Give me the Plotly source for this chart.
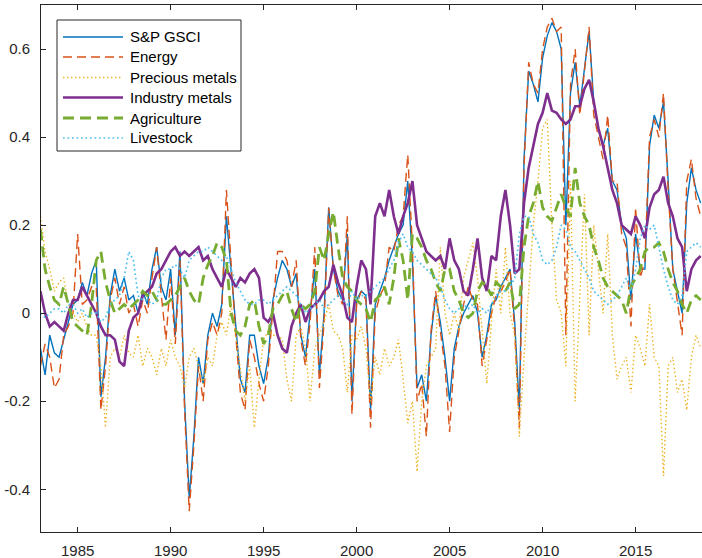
import numpy as np
import plotly.graph_objects as go

# Quarterly observation dates
dates = np.arange(1983.0, 2018.51, 0.25)

gsci = [
    -0.08, -0.14, -0.05, -0.09,   # 1983
    -0.10, -0.06, -0.02, 0.02,    # 1984
    0.03, 0.07, 0.04, 0.09,       # 1985
    0.12, -0.19, -0.10, 0.04,     # 1986
    0.10, 0.05, 0.08, 0.03,       # 1987
    0.04, 0.00, 0.05, 0.02,       # 1988
    0.10, 0.15, 0.06, 0.03,       # 1989
    0.10, -0.05, 0.14, -0.20,     # 1990
    -0.42, -0.28, -0.10, -0.16,   # 1991
    -0.05, 0.00, -0.03, 0.02,     # 1992
    0.22, 0.10, -0.03, -0.15,     # 1993
    -0.18, -0.05, -0.05, -0.12,   # 1994
    -0.16, -0.10, 0.03, 0.08,     # 1995
    0.12, 0.10, 0.06, 0.09,       # 1996
    -0.05, -0.10, 0.00, 0.10,     # 1997
    -0.14, 0.00, 0.24, 0.10,      # 1998
    0.05, 0.03, 0.18, -0.20,      # 1999
    0.03, 0.05, 0.04, -0.22,      # 2000
    0.02, 0.05, 0.08, 0.12,       # 2001
    0.15, 0.18, 0.20, 0.30,       # 2002
    0.12, -0.17, -0.14, -0.20,    # 2003
    -0.05, 0.04, -0.02, -0.10,    # 2004
    -0.20, -0.08, -0.03, 0.00,    # 2005
    0.02, 0.04, 0.00, -0.10,      # 2006
    -0.05, 0.02, 0.03, 0.06,      # 2007
    0.08, 0.10, -0.02, -0.22,     # 2008
    0.35, 0.55, 0.52, 0.48,       # 2009
    0.58, 0.63, 0.66, 0.64,       # 2010
    0.60, 0.20, 0.50, 0.57,       # 2011
    0.47, 0.55, 0.64, 0.48,       # 2012
    0.42, 0.38, 0.42, 0.30,       # 2013
    0.28, 0.20, 0.17, 0.03,       # 2014
    0.18, 0.10, 0.10, 0.38,       # 2015
    0.45, 0.42, 0.48, 0.30,       # 2016
    0.10, 0.05, 0.00, 0.25,       # 2017
    0.33, 0.28, 0.25,             # 2018
]

energy = [
    -0.12, -0.07, -0.10, -0.17,
    -0.15, -0.05, -0.03, 0.00,
    0.18, 0.02, 0.03, 0.06,
    0.06, -0.22, -0.12, 0.03,
    0.08, 0.02, 0.06, 0.00,
    0.02, -0.03, 0.03, 0.00,
    0.08, 0.15, 0.04, -0.06,
    0.08, -0.07, 0.12, -0.22,
    -0.45, -0.30, -0.12, -0.20,
    -0.06, -0.02, -0.05, 0.00,
    0.28, 0.12, -0.05, -0.18,
    -0.22, -0.06, -0.10, -0.16,
    -0.20, -0.12, 0.02, 0.14,
    0.14, 0.12, 0.06, 0.12,
    -0.06, -0.12, -0.02, 0.15,
    -0.17, -0.02, 0.24, 0.10,
    0.04, 0.02, 0.22, -0.23,
    0.02, 0.05, 0.03, -0.26,
    0.00, 0.04, 0.06, 0.15,
    0.14, 0.20, 0.22, 0.36,
    0.15, -0.20, -0.16, -0.28,
    -0.04, 0.05, -0.04, -0.12,
    -0.27, -0.10, -0.04, 0.02,
    0.06, 0.03, 0.02, -0.12,
    -0.06, 0.00, 0.04, 0.05,
    0.07, 0.10, -0.04, -0.26,
    0.33, 0.57, 0.52, 0.50,
    0.60, 0.65, 0.67, 0.64,
    0.65, -0.05, 0.52, 0.60,
    0.45, 0.55, 0.65, 0.45,
    0.40, 0.35, 0.45, 0.30,
    0.30, 0.18, 0.15, -0.03,
    0.24, 0.08, 0.12, 0.40,
    0.44, 0.40, 0.50, 0.28,
    0.10, 0.03, -0.05, 0.30,
    0.35, 0.26, 0.22,
]

precious = [
    0.22, 0.14, 0.10, 0.05,
    0.07, 0.08, 0.02, 0.00,
    -0.02, 0.00, -0.03, -0.05,
    -0.05, -0.12, -0.26, -0.10,
    -0.08, -0.10, -0.05, -0.09,
    -0.10, -0.05, -0.12, -0.08,
    -0.10, -0.14, -0.08, -0.12,
    -0.06, -0.10, -0.12, -0.17,
    -0.10, -0.08, -0.12, -0.16,
    -0.10, -0.12, -0.05, -0.02,
    -0.05, 0.02, -0.05, -0.12,
    -0.20, -0.12, -0.26, -0.15,
    -0.06, -0.04, -0.05, -0.05,
    -0.06, -0.15, -0.20, -0.05,
    -0.03, -0.08, -0.20, -0.08,
    -0.05, -0.02, 0.02, -0.04,
    -0.05, -0.08, -0.18, -0.05,
    -0.06, -0.03, -0.08, -0.20,
    -0.10, -0.14, -0.08, -0.12,
    -0.10, -0.06, -0.15, -0.25,
    -0.20, -0.36, -0.20, -0.12,
    -0.10, -0.08, 0.15, 0.00,
    -0.05, 0.00, -0.04, 0.08,
    0.12, 0.16, 0.08, -0.05,
    -0.16, -0.02, 0.10, 0.00,
    0.15, 0.00, -0.05, -0.28,
    -0.10, 0.05, 0.20, 0.30,
    0.42, 0.44, 0.20, 0.03,
    0.00, -0.12, 0.30, -0.20,
    0.05, 0.27, -0.05, 0.20,
    0.10, 0.00, 0.18, -0.05,
    -0.15, -0.12, -0.10, -0.18,
    -0.05, -0.08, -0.12, 0.02,
    -0.10, -0.12, -0.37, -0.12,
    -0.10, -0.18, -0.15, -0.22,
    -0.10, -0.05, -0.08,
]

industry = [
    0.05, 0.00, -0.03, -0.02,
    -0.03, -0.04, 0.00, 0.03,
    0.03, 0.06, 0.04, 0.02,
    0.00, -0.03, -0.05, -0.05,
    -0.06, -0.11, -0.12, -0.04,
    -0.01, 0.00, 0.04, 0.05,
    0.06, 0.09, 0.10, 0.12,
    0.14, 0.15, 0.13, 0.14,
    0.13, 0.14, 0.15, 0.12,
    0.13, 0.10, 0.08, 0.06,
    0.10, 0.08, 0.06, 0.08,
    0.07, 0.09, 0.10, 0.08,
    -0.01, -0.02, 0.00, -0.05,
    -0.08, -0.09, -0.03, 0.00,
    0.02, -0.02, 0.01, 0.02,
    0.03, 0.05, 0.06, 0.11,
    0.07, 0.04, -0.01, -0.02,
    0.06, 0.12, 0.10, 0.02,
    0.22, 0.25, 0.22, 0.28,
    0.22, 0.18, 0.22, 0.25,
    0.30, 0.20, 0.17, 0.14,
    0.13, 0.12, 0.13, 0.10,
    0.17, 0.12, 0.10, 0.05,
    0.04, 0.10, 0.17, 0.08,
    0.05, 0.13, 0.12, 0.22,
    0.28, 0.20, 0.09, 0.10,
    0.25, 0.33, 0.38, 0.43,
    0.455, 0.50, 0.46, 0.455,
    0.44, 0.43, 0.44, 0.47,
    0.47, 0.51, 0.53, 0.48,
    0.42, 0.38, 0.33, 0.28,
    0.25, 0.20, 0.19, 0.18,
    0.22, 0.20, 0.17, 0.24,
    0.27, 0.28, 0.31, 0.25,
    0.22, 0.17, 0.15, 0.05,
    0.10, 0.12, 0.13,
]

agriculture = [
    0.19, 0.10, 0.06, 0.03,
    0.02, 0.06, 0.02, -0.02,
    -0.03, -0.04, -0.05, 0.02,
    0.12, 0.14, 0.07, 0.03,
    0.00, 0.01, 0.02, 0.01,
    0.02, 0.03, 0.05, 0.04,
    0.05, 0.03, 0.02, 0.02,
    0.03, 0.04, 0.06, 0.08,
    0.05, 0.03, 0.02, 0.08,
    0.11, 0.13, 0.16, 0.15,
    0.12, 0.00, -0.04, -0.05,
    -0.03, 0.02, 0.03, -0.03,
    -0.07, -0.05, 0.01, 0.02,
    0.04, 0.05, 0.01, -0.02,
    0.02, 0.01, 0.02, 0.05,
    0.15, 0.12, 0.18, 0.23,
    0.15, 0.08, 0.06, 0.05,
    0.03, 0.02, 0.01, -0.02,
    0.03, 0.04, 0.06, 0.02,
    0.08, 0.17, 0.12, 0.03,
    0.18, 0.17, 0.15, 0.12,
    0.10, 0.07, 0.05, 0.10,
    0.10, 0.05, 0.03, 0.00,
    -0.01, 0.00, 0.05, 0.07,
    0.06, 0.04, 0.07, 0.06,
    0.05, 0.07, 0.01, 0.02,
    0.15, 0.22, 0.25, 0.30,
    0.24, 0.22, 0.21, 0.24,
    0.27, 0.24, 0.22, 0.33,
    0.25, 0.22, 0.20, 0.15,
    0.12, 0.08, 0.06, 0.05,
    0.04, 0.03, 0.00, 0.06,
    0.08, 0.10, 0.14, 0.15,
    0.15, 0.16, 0.14, 0.10,
    0.07, 0.05, 0.02, 0.00,
    0.03, 0.04, 0.03,
]

livestock = [
    0.00, -0.01, 0.00, 0.01,
    0.01, 0.00, 0.02, 0.02,
    0.00, 0.01, -0.01, 0.00,
    0.00, -0.02, -0.01, 0.02,
    0.03, 0.04, 0.08, 0.14,
    0.12, 0.04, 0.03, 0.03,
    0.02, 0.03, 0.08, 0.10,
    0.10, 0.11, 0.10, 0.08,
    0.12, 0.13, 0.14, 0.14,
    0.15, 0.14, 0.13, 0.12,
    0.13, 0.10, 0.07, 0.05,
    0.03, 0.02, 0.02, 0.03,
    0.03, 0.02, 0.03, 0.04,
    0.05, 0.06, 0.05, 0.04,
    0.02, 0.00, 0.01, 0.02,
    0.03, 0.01, 0.02, 0.03,
    0.04, 0.03, 0.02, 0.05,
    0.03, 0.04, 0.04, 0.05,
    0.06, 0.07, 0.08, 0.10,
    0.12, 0.16, 0.18, 0.15,
    0.14, 0.12, 0.11, 0.10,
    0.09, 0.08, 0.06, 0.03,
    0.01, 0.00, 0.01, 0.02,
    0.01, 0.02, 0.00, 0.01,
    0.00, 0.02, 0.04, 0.05,
    0.05, 0.06, 0.08, 0.18,
    0.22, 0.22, 0.18, 0.16,
    0.12, 0.11, 0.12, 0.15,
    0.20, 0.19, 0.15, 0.14,
    0.12, 0.10, 0.08, 0.05,
    0.04, 0.03, 0.02, 0.03,
    0.04, 0.06, 0.08, 0.05,
    0.10, 0.17, 0.20, 0.19,
    0.20, 0.15, 0.10, 0.06,
    0.03, 0.02, 0.04, 0.14,
    0.15, 0.16, 0.15,
]

x_ticks = [1985, 1990, 1995, 2000, 2005, 2010, 2015]
y_ticks = [-0.4, -0.2, 0.0, 0.2, 0.4, 0.6]
y_tick_text = ["-0.4", "-0.2", "0", "0.2", "0.4", "0.6"]

# name, values, colour, width, dash
series = [
    ("S&P GSCI", gsci, "#0072BD", 1.4, "solid"),
    ("Energy", energy, "#D95319", 1.4, "9px,5px"),
    ("Precious metals", precious, "#EDB120", 1.4, "1.4px,2.6px"),
    ("Industry metals", industry, "#7E2F8E", 2.6, "solid"),
    ("Agriculture", agriculture, "#77AC30", 2.8, "11px,6px"),
    ("Livestock", livestock, "#4DBEEE", 1.7, "1.7px,2.8px"),
]

FONT = "Liberation Sans, Arial, Helvetica, sans-serif"
AXIS = "#262626"
W, H = 702, 558
L, T, R, B = 41, 5, 702, 532

fig = go.Figure()
for name, vals, color, width, dash in series:
    fig.add_trace(go.Scatter(
        x=dates, y=vals, mode="lines", name=name, showlegend=False,
        line=dict(color=color, width=width, dash=dash),
    ))


def px_x(x):
    return (x - L) / (R - L)


def px_y(y):
    return (B - y) / (B - T)


# Legend box drawn in paper coordinates
shapes = [dict(type="rect", xref="paper", yref="paper",
               x0=px_x(57), x1=px_x(241), y0=px_y(151), y1=px_y(20),
               line=dict(color=AXIS, width=1), fillcolor="white", layer="above")]
annotations = []
row_y = [37, 57, 77.5, 97.5, 118, 138]
for (name, vals, color, width, dash), ry in zip(series, row_y):
    shapes.append(dict(type="line", xref="paper", yref="paper",
                       x0=px_x(63), x1=px_x(123), y0=px_y(ry), y1=px_y(ry),
                       line=dict(color=color, width=width, dash=dash), layer="above"))
    annotations.append(dict(xref="paper", yref="paper", x=px_x(128), y=px_y(ry),
                            text=name, showarrow=False, xanchor="left", yanchor="middle",
                            font=dict(family=FONT, size=15, color="black")))

fig.update_layout(
    width=W, height=H,
    margin=dict(l=L, r=W - R, t=T, b=H - B, pad=0),
    paper_bgcolor="white", plot_bgcolor="white",
    shapes=shapes, annotations=annotations,
    showlegend=False,
    font=dict(family=FONT, size=15, color=AXIS),
    xaxis=dict(range=[1983.03, 2018.57], tickvals=x_ticks, ticks="inside", ticklen=5,
               tickcolor=AXIS, showline=True, linecolor=AXIS, linewidth=1, mirror="ticks",
               showgrid=False, zeroline=False, ticklabelstandoff=5,
               tickfont=dict(family=FONT, size=15, color=AXIS)),
    yaxis=dict(range=[-0.497, 0.70], tickvals=y_ticks, ticktext=y_tick_text, ticks="inside",
               ticklen=5, tickcolor=AXIS, showline=True, linecolor=AXIS, linewidth=1,
               mirror=False, showgrid=False, zeroline=False, ticklabelstandoff=7,
               tickfont=dict(family=FONT, size=15, color=AXIS)),
)

fig.write_html("out.html")
